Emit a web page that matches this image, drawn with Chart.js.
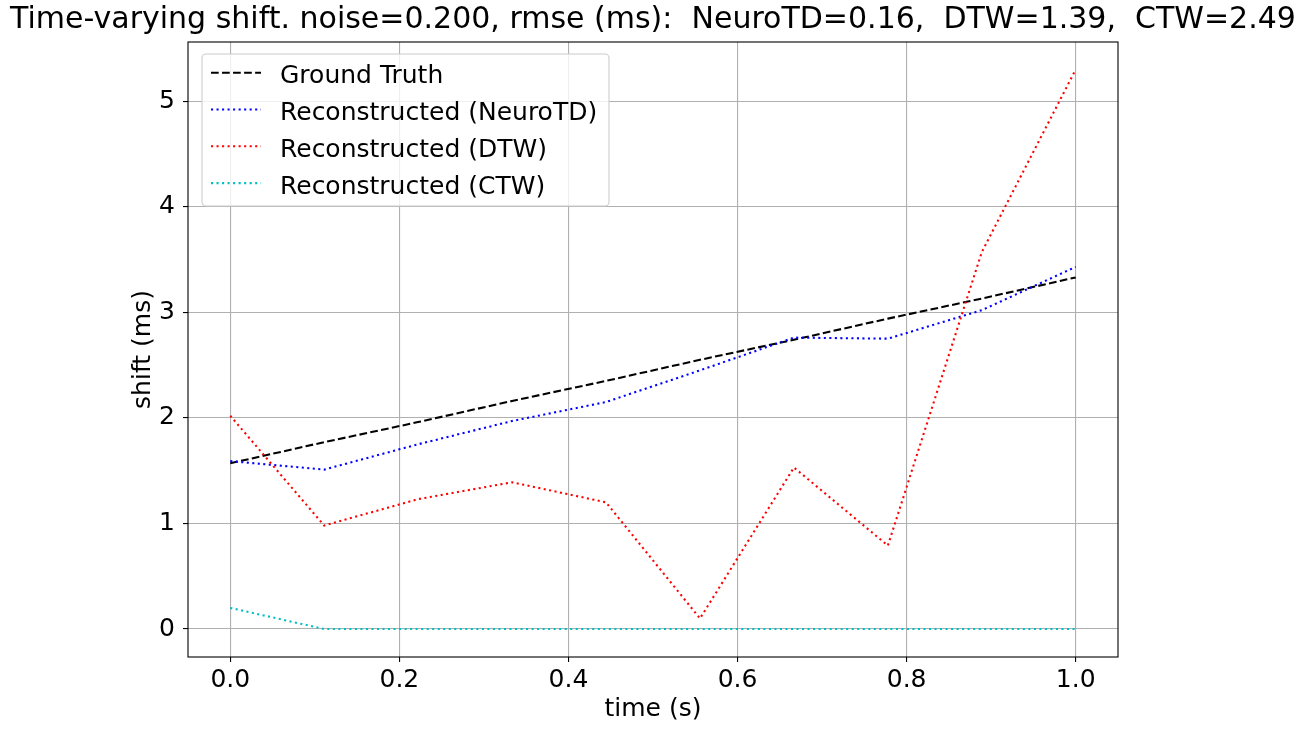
<!DOCTYPE html>
<html>
<head>
<meta charset="utf-8">
<script src="https://cdn.jsdelivr.net/npm/chart.js@4.4.1/dist/chart.umd.min.js"></script>
<style>
    html, body { margin: 0; padding: 0; background: #fff; }
    #wrap { width: 1306px; height: 730px; }
</style>
</head>
<body>
<div id="wrap"><canvas id="shiftChart"></canvas></div>
<script>
// sample times (s)
const timeValues = [0, 0.1111, 0.2222, 0.3333, 0.4444, 0.5556, 0.6667, 0.7778, 0.8889, 1.0];

// shift (ms) per method
const groundTruth = [1.57, 1.77, 1.96, 2.16, 2.35, 2.55, 2.74, 2.94, 3.13, 3.33];
const neuroTD = [1.59, 1.51, 1.75, 1.97, 2.15, 2.45, 2.76, 2.75, 3.02, 3.43];
const dtw = [2.02, 0.98, 1.23, 1.39, 1.20, 0.10, 1.53, 0.79, 3.57, 5.30];
const ctw = [0.20, 0, 0, 0, 0, 0, 0, 0, 0, 0];

const xTicks = [0.0, 0.2, 0.4, 0.6, 0.8, 1.0];
const yTicks = [0, 1, 2, 3, 4, 5];

const TITLE = 'Time-varying shift. noise=0.200, rmse (ms):  NeuroTD=0.16,  DTW=1.39,  CTW=2.49';

const FONT = 'DejaVu Sans';
const FS = 25;
const LW = 2.08;
const DOTTED = [2.08, 3.44];
const DASHED = [7.7, 3.33];

Chart.defaults.color = '#000';
Chart.defaults.font.family = FONT;

function points(values) {
    return timeValues.map((t, i) => ({ x: t, y: values[i] }));
}

function series(label, values, color, dash, order) {
    return {
        label,
        data: points(values),
        borderColor: color,
        backgroundColor: color,
        borderWidth: LW,
        borderDash: dash,
        borderCapStyle: 'butt',
        pointRadius: 0,
        tension: 0,
        fill: false,
        order
    };
}

// spines plus a matplotlib-style legend box in the upper left
const frameAndLegend = {
    id: 'frameAndLegend',
    afterDatasetsDraw(chart) {
        const { ctx, chartArea: a } = chart;
        ctx.save();
        ctx.strokeStyle = '#000';
        ctx.lineWidth = 1.1;
        ctx.setLineDash([]);
        ctx.strokeRect(a.left, a.top, a.right - a.left, a.bottom - a.top);

        const bx = a.left + 14, by = a.top + 12, bw = 407, bh = 152;
        ctx.beginPath();
        ctx.roundRect(bx, by, bw, bh, 4);
        ctx.fillStyle = 'rgba(255,255,255,0.8)';
        ctx.fill();
        ctx.strokeStyle = '#cccccc';
        ctx.lineWidth = 1.1;
        ctx.stroke();

        ctx.font = FS + 'px "' + FONT + '"';
        ctx.textAlign = 'left';
        ctx.textBaseline = 'alphabetic';
        chart.data.datasets.forEach((ds, i) => {
            const y = a.top + 30.7 + i * 36.8;
            ctx.beginPath();
            ctx.strokeStyle = ds.borderColor;
            ctx.lineWidth = ds.borderWidth;
            ctx.setLineDash(ds.borderDash);
            ctx.lineCap = 'butt';
            ctx.moveTo(a.left + 23, y);
            ctx.lineTo(a.left + 73, y);
            ctx.stroke();
            ctx.setLineDash([]);
            ctx.fillStyle = '#000';
            ctx.fillText(ds.label, a.left + 92, y + 10.5);
        });
        ctx.restore();
    }
};

new Chart(document.getElementById('shiftChart'), {
    type: 'line',
    data: {
        datasets: [
            series('Ground Truth', groundTruth, '#000000', DASHED, 4),
            series('Reconstructed (NeuroTD)', neuroTD, '#0000ff', DOTTED, 3),
            series('Reconstructed (DTW)', dtw, '#ff0000', DOTTED, 2),
            series('Reconstructed (CTW)', ctw, '#00bfbf', DOTTED, 1)
        ]
    },
    options: {
        responsive: true,
        maintainAspectRatio: false,
        animation: false,
        layout: { padding: 0 },
        plugins: {
            legend: { display: false },
            tooltip: { enabled: false },
            title: {
                display: true,
                text: TITLE,
                color: '#000',
                font: { family: FONT, size: 30, weight: 'normal', lineHeight: 1.2 },
                padding: { top: 2, bottom: 4 }
            }
        },
        scales: {
            x: {
                type: 'linear',
                min: -0.05,
                max: 1.05,
                afterBuildTicks: s => { s.ticks = xTicks.map(v => ({ value: v })); },
                afterFit: s => { s.height = 73; },
                ticks: {
                    font: { size: FS },
                    color: '#000',
                    padding: 3,
                    maxRotation: 0,
                    callback: v => v.toFixed(1)
                },
                grid: { color: '#b0b0b0', lineWidth: 1.1, tickColor: '#000', tickLength: 5, tickWidth: 1.1 },
                border: { display: false },
                title: {
                    display: true,
                    text: 'time (s)',
                    color: '#000',
                    font: { size: FS, lineHeight: 1.2 },
                    padding: { top: 0, bottom: 6 }
                }
            },
            y: {
                type: 'linear',
                min: -0.265,
                max: 5.56,
                afterBuildTicks: s => { s.ticks = yTicks.map(v => ({ value: v })); },
                afterFit: s => { s.width = 188; },
                ticks: {
                    font: { size: FS },
                    color: '#000',
                    padding: 8,
                    callback: v => String(v)
                },
                grid: { color: '#b0b0b0', lineWidth: 1.1, tickColor: '#000', tickLength: 5, tickWidth: 1.1 },
                border: { display: false },
                title: {
                    display: true,
                    text: 'shift (ms)',
                    color: '#000',
                    font: { size: FS, lineHeight: 1.2 },
                    padding: { top: 128, bottom: 0 }
                }
            },
            // empty right-hand box so the plot keeps matplotlib's right margin
            yMargin: {
                type: 'linear',
                position: 'right',
                afterFit: s => { s.width = 188; },
                ticks: { display: false },
                grid: { display: false },
                border: { display: false }
            }
        }
    },
    plugins: [frameAndLegend]
});
</script>
</body>
</html>
